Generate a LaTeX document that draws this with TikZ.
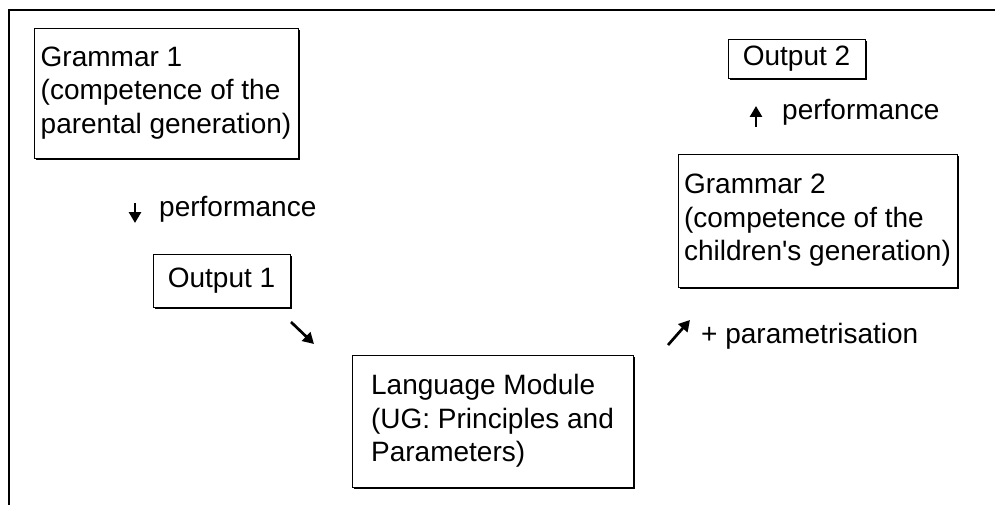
\documentclass[tikz,border=0pt]{standalone}
\usepackage{fontspec}
\setmainfont{Liberation Sans}[Ligatures=TeXOff]
\usetikzlibrary{arrows.meta,shadows}
\tikzset{
  box/.style={draw=black, line width=0.9pt, fill=white, align=left, inner sep=0pt,
    drop shadow={shadow xshift=2pt, shadow yshift=-2pt, fill=black, opacity=1},
    font=\fontsize{28}{33.5}\selectfont},
  lbl/.style={inner sep=0pt, anchor=base west, font=\fontsize{28}{33.5}\selectfont},
  sym/.style={line width=2.7pt, -{Triangle[width=12pt,length=11pt]}},
  frame/.style={line width=2.2pt}
}
\begin{document}
\begin{tikzpicture}[x=1pt,y=-1pt]
\useasboundingbox (0,0) rectangle (995,505);
\draw[frame] (995,10) -- (9,10) -- (9,505);

\node[box, minimum width=264pt, minimum height=130pt] (g1) at (166,93)
  {Grammar 1\\(competence of the\\parental generation)};
\node[box, minimum width=137pt, minimum height=53pt] (o1) at (221.5,280.5) {Output 1};
\node[box, minimum width=281pt, minimum height=132pt] (lm) at (492.5,421)
  {Language Module\\(UG: Principles and\\Parameters)};
\node[box, minimum width=279pt, minimum height=133pt] (g2) at (817.5,220.5)
  {Grammar 2\\(competence of the\\children's generation)};
\node[box, minimum width=137pt, minimum height=39pt] (o2) at (796.5,58.5) {Output 2};

% performance (down)
\coordinate (a1s) at (135,203);
\coordinate (a1e) at (135,223);
\draw[sym] (a1s) -- (a1e);
\node[lbl] (p1) at (159,216.5) {performance};

% diagonal down-right
\coordinate (a2s) at (291,322);
\coordinate (a2e) at (314,344);
\draw[sym] (a2s) -- (a2e);

% diagonal up-right
\coordinate (a3s) at (668,345);
\coordinate (a3e) at (690,320);
\draw[sym] (a3s) -- (a3e);
\node[lbl] (pp) at (701,343) {+ parametrisation};

% performance (up)
\coordinate (a4s) at (756,127);
\coordinate (a4e) at (756,106);
\draw[sym] (a4s) -- (a4e);
\node[lbl] (p2) at (782,120) {performance};
\end{tikzpicture}
\end{document}
